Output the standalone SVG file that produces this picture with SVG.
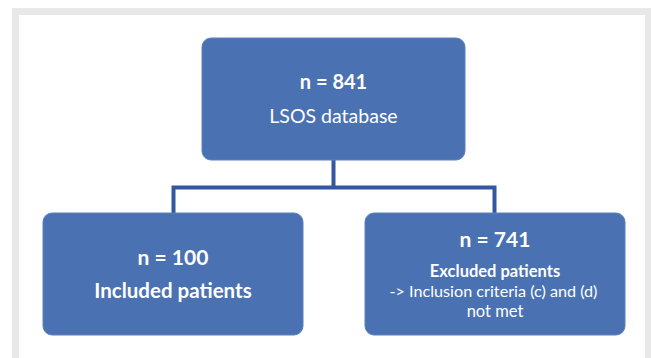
<svg xmlns="http://www.w3.org/2000/svg" width="651" height="358" viewBox="0 0 651 358">
<style>
.box{fill:#4a72b3;stroke:#5a80bd;stroke-width:1}
.t{fill:#ffffff;font-family:Lato,"Open Sans","Liberation Sans",sans-serif;text-anchor:middle}
.b{font-weight:bold}
.conn{fill:none;stroke:#3358a0;stroke-width:4;stroke-linejoin:miter}
</style>
<rect x="0" y="0" width="651" height="358" fill="#ffffff"/>
<rect x="12" y="8" width="639" height="350" fill="#e8e8e8"/>
<rect x="19" y="15" width="626" height="343" fill="#ffffff"/>
<g id="connectors">
<path class="conn" d="M333.5 160 V187.5 M173.5 213 V187.5 H494.5 V213"/>
</g>
<g id="node-database">
<rect class="box" x="202" y="38" width="263" height="122" rx="9"/>
<text class="t b" x="333.5" y="89" font-size="20">n = 841</text>
<text class="t" x="333.5" y="123" font-size="19.5">LSOS database</text>
</g>
<g id="node-included">
<rect class="box" x="43" y="213" width="260" height="122" rx="9"/>
<text class="t b" x="173" y="265" font-size="21">n = 100</text>
<text class="t b" x="173" y="298" font-size="20.5">Included  patients</text>
</g>
<g id="node-excluded">
<rect class="box" x="365" y="213" width="260" height="122" rx="9"/>
<text class="t b" x="495" y="247" font-size="21">n = 741</text>
<text class="t b" x="495" y="277" font-size="16.5">Excluded patients</text>
<text class="t" x="493.5" y="297" font-size="16.2">-&gt; Inclusion criteria (c) and (d)</text>
<text class="t" x="495" y="317" font-size="16.5">not met</text>
</g>
</svg>
